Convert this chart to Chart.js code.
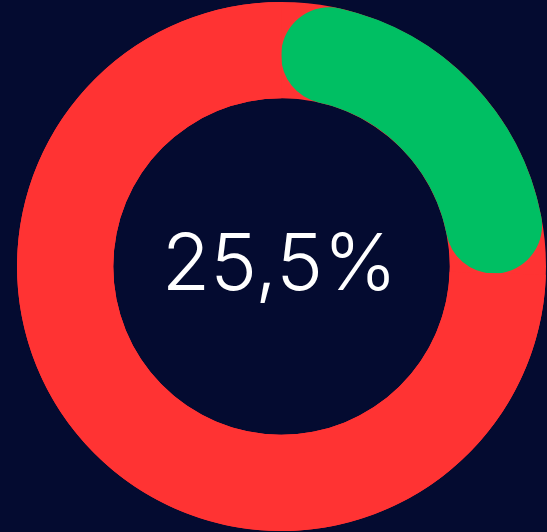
<!DOCTYPE html>
<html>
<head>
<meta charset="utf-8">
<script src="https://cdn.jsdelivr.net/npm/chart.js@4"></script>
<style>
  html, body { margin: 0; padding: 0; background: #040b30; }
  #wrap { width: 547px; height: 532px; }
</style>
</head>
<body>
<div id="wrap"><canvas id="donut-chart"></canvas></div>
<script>
// Chart data
var labels = ["Done", "Remaining"];
var values = [25.5, 74.5];
var centerLabel = "25,5%";

document.addEventListener("DOMContentLoaded", function () {
  var ctx = document.getElementById("donut-chart").getContext("2d");

  // Full red ring behind the segments, so the rounded ends of the green arc sit on red
  var ringBehind = {
    id: "ringBehind",
    beforeDatasetsDraw: function (chart) {
      var arc = chart.getDatasetMeta(0).data[0];
      if (!arc) return;
      var c = chart.ctx;
      c.save();
      c.beginPath();
      c.arc(arc.x, arc.y, arc.outerRadius, 0, Math.PI * 2);
      c.arc(arc.x, arc.y, arc.innerRadius, 0, Math.PI * 2, true);
      c.fillStyle = "#ff3333";
      c.fill("evenodd");
      c.restore();
    },
  };

  // Percentage text in the hole
  var centerText = {
    id: "centerText",
    afterDraw: function (chart) {
      var arc = chart.getDatasetMeta(0).data[0];
      if (!arc) return;
      var c = chart.ctx;
      c.save();
      c.font = "300 79px Inter";
      c.fillStyle = "#ffffff";
      c.textAlign = "center";
      c.textBaseline = "middle";
      c.fillText(centerLabel, arc.x - 2, arc.y);
      c.restore();
    },
  };

  new Chart(ctx, {
    type: "doughnut",
    data: {
      labels: labels,
      datasets: [
        {
          data: values,
          backgroundColor: ["#00bf63", "#ff3333"],
          borderWidth: 0,
          borderRadius: [200, 0],
        },
      ],
    },
    options: {
      responsive: true,
      maintainAspectRatio: false,
      animation: false,
      cutout: "63.6%",
      layout: {
        padding: { left: 16, right: 0, top: 2, bottom: 1 },
      },
      plugins: {
        legend: { display: false },
        tooltip: { enabled: false },
      },
    },
    plugins: [ringBehind, centerText],
  });
});
</script>
</body>
</html>
